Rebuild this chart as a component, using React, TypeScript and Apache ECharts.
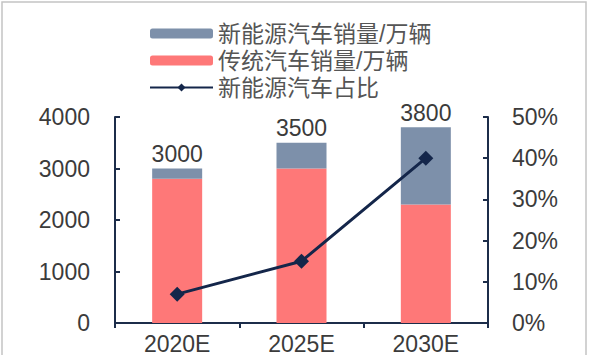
import React, { useEffect, useRef } from "react";
import * as echarts from "echarts";

const categories = ["2020E", "2025E", "2030E"];
const traditionalSales = [2800, 3000, 2300];
const newEnergySales = [200, 500, 1500];
const totals = [3000, 3500, 3800];
const newEnergyShare = [0.07, 0.15, 0.4];
const leftTicks = [0, 1000, 2000, 3000, 4000];

const NAME_NEW = "新能源汽车销量/万辆";
const NAME_TRAD = "传统汽车销量/万辆";
const NAME_SHARE = "新能源汽车占比";

const FONT = "Liberation Sans, Arial, Noto Sans CJK SC, sans-serif";
const AXIS_COLOR = "#1c2d4a";
const LABEL_COLOR = "#3b3b3b";

export default function App() {
  const ref = useRef<HTMLDivElement>(null);
  useEffect(() => {
    if (!ref.current) return;
    const chart = echarts.init(ref.current, undefined, { renderer: "svg" });
    chart.setOption({
      animation: false,
      backgroundColor: "#ffffff",
      graphic: [
        {
          type: "rect",
          shape: { x: 2, y: 2, width: 584, height: 360 },
          style: { fill: "none", stroke: "#c4c4c4", lineWidth: 1.5 },
          silent: true,
        },
      ],
      legend: {
        orient: "vertical",
        left: 149,
        top: 22,
        padding: 0,
        itemWidth: 63,
        itemHeight: 10,
        itemGap: 4,
        data: [NAME_NEW, NAME_TRAD, NAME_SHARE],
        textStyle: {
          fontSize: 23,
          lineHeight: 22,
          color: "#555",
          fontFamily: FONT,
          padding: [0, 0, 0, 0],
        },
      },
      grid: { left: 115, right: 107, top: 117, bottom: 23, containLabel: false },
      xAxis: {
        type: "category",
        data: categories,
        axisLine: { lineStyle: { color: AXIS_COLOR, width: 2 } },
        axisTick: { show: true, inside: false, length: 5, lineStyle: { color: AXIS_COLOR, width: 2 } },
        axisLabel: { fontSize: 23, color: LABEL_COLOR, fontFamily: FONT, margin: 9 },
      },
      yAxis: [
        {
          type: "value",
          min: leftTicks[0],
          max: leftTicks[leftTicks.length - 1],
          interval: 1000,
          axisLine: { show: true, lineStyle: { color: AXIS_COLOR, width: 2 } },
          axisTick: { show: true, inside: true, length: 5, lineStyle: { color: AXIS_COLOR, width: 2 } },
          splitLine: { show: false },
          axisLabel: {
            fontSize: 23,
            color: LABEL_COLOR,
            fontFamily: FONT,
            margin: 25,
            formatter: (v: number) => String(v),
          },
        },
        {
          type: "value",
          min: 0,
          max: 0.5,
          interval: 0.1,
          position: "right",
          axisLine: { show: true, lineStyle: { color: AXIS_COLOR, width: 2 } },
          axisTick: { show: true, inside: true, length: 5, lineStyle: { color: AXIS_COLOR, width: 2 } },
          splitLine: { show: false },
          axisLabel: {
            fontSize: 23,
            color: LABEL_COLOR,
            fontFamily: FONT,
            margin: 24,
            formatter: (v: number) => `${Math.round(v * 100)}%`,
          },
        },
      ],
      series: [
        {
          name: NAME_TRAD,
          type: "bar",
          stack: "sales",
          barWidth: 50,
          data: traditionalSales,
          itemStyle: { color: "#fe7878" },
        },
        {
          name: NAME_NEW,
          type: "bar",
          stack: "sales",
          barWidth: 50,
          data: newEnergySales,
          itemStyle: { color: "#7d90aa" },
          label: {
            show: true,
            position: "top",
            distance: 3,
            fontSize: 23,
            color: LABEL_COLOR,
            fontFamily: FONT,
            formatter: (p: any) => String(totals[p.dataIndex]),
          },
        },
        {
          name: NAME_SHARE,
          type: "line",
          yAxisIndex: 1,
          data: newEnergyShare,
          symbol: "diamond",
          symbolSize: 15,
          lineStyle: { color: "#14264a", width: 3 },
          itemStyle: { color: "#14264a" },
          z: 5,
        },
      ],
    });
    return () => chart.dispose();
  }, []);
  return (
    <div
      ref={ref}
      style={{ position: "absolute", left: 0, top: 0, width: 595, height: 355 }}
    />
  );
}
